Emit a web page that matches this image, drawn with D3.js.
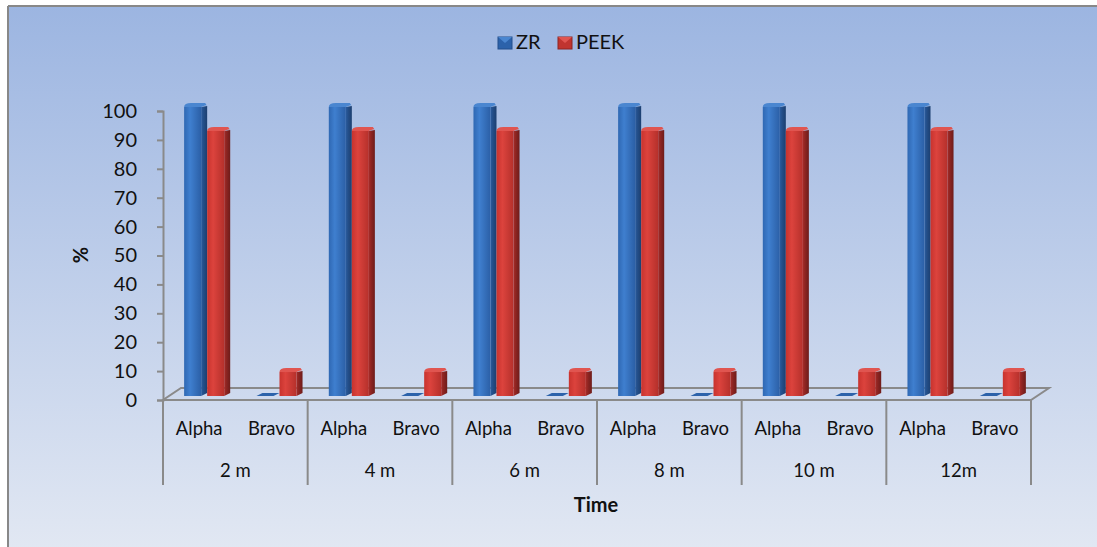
<!DOCTYPE html>
<html>
<head>
<meta charset="utf-8">
<script src="https://cdn.jsdelivr.net/npm/d3@7"></script>
<style>
  body { margin: 0; background: #fff; }
  text { font-family: Lato, "Open Sans", sans-serif; fill: #111; }
</style>
</head>
<body>
<div id="chart"></div>
<script>
// data
var groups = ["2 m", "4 m", "6 m", "8 m", "10 m", "12m"];
var subs = ["Alpha", "Bravo"];
var series = ["ZR", "PEEK"];
var zrValues = [100, 0, 100, 0, 100, 0, 100, 0, 100, 0, 100, 0];
var peekValues = [91.7, 8.3, 91.7, 8.3, 91.7, 8.3, 91.7, 8.3, 91.7, 8.3, 91.7, 8.3];
var yTicks = [0, 10, 20, 30, 40, 50, 60, 70, 80, 90, 100];

var W = 1097, H = 547;
var x0 = 163, x1 = 1031, yBase = 400, yTop = 111;
var depth = { dx: 18, dy: -12 };

var svg = d3.select("#chart").append("svg")
  .attr("width", W).attr("height", H);

var defs = svg.append("defs");
var bg = defs.append("linearGradient").attr("id", "bg")
  .attr("x1", 0).attr("y1", 0).attr("x2", 0).attr("y2", 1);
bg.append("stop").attr("offset", "0%").attr("stop-color", "#9cb5e1");
bg.append("stop").attr("offset", "100%").attr("stop-color", "#e2e8f3");

function barGrad(id, c1, c2, c3) {
  var g = defs.append("linearGradient").attr("id", id)
    .attr("x1", 0).attr("y1", 0).attr("x2", 1).attr("y2", 0);
  g.append("stop").attr("offset", "0%").attr("stop-color", c1);
  g.append("stop").attr("offset", "35%").attr("stop-color", c2);
  g.append("stop").attr("offset", "100%").attr("stop-color", c3);
}
barGrad("gZR", "#2f68b3", "#3f7fcf", "#2b5fa6");
barGrad("gPEEK", "#c8332e", "#dc433d", "#b5302b");
barGrad("sZR", "#2a5c9f", "#244f8a", "#1c3f70");
barGrad("sPEEK", "#a82c28", "#8e2522", "#6e1c1a");

var colors = {
  ZR: { front: "url(#gZR)", side: "url(#sZR)", top: "#4a86d0", flat: "#2c62aa", edge: "#234f8c" },
  PEEK: { front: "url(#gPEEK)", side: "url(#sPEEK)", top: "#e05550", flat: "#c0342f", edge: "#8e2522" }
};

// background + frame
svg.append("rect").attr("x", 8).attr("y", 6).attr("width", W).attr("height", H)
  .attr("fill", "url(#bg)");
svg.append("line").attr("x1", 8).attr("x2", 8).attr("y1", 6).attr("y2", H)
  .attr("stroke", "#888").attr("stroke-width", 2);
svg.append("line").attr("x1", 8).attr("x2", W).attr("y1", 6).attr("y2", 6)
  .attr("stroke", "#888").attr("stroke-width", 2);

// scales
var xg = d3.scaleBand().domain(groups).range([x0, x1]);
var xs = d3.scaleBand().domain(subs).range([0, xg.bandwidth()]);
var xb = d3.scaleBand().domain(series).range([0, xs.bandwidth()]).paddingOuter(0.57).paddingInner(0);
var y = d3.scaleLinear().domain([0, 100]).range([yBase, yTop]);

// floor
var axisColor = "#8a8a8a";
svg.append("path")
  .attr("d", "M" + x0 + "," + yBase + "L" + x1 + "," + yBase +
    "L" + (x1 + depth.dx) + "," + (yBase + depth.dy) +
    "L" + (x0 + depth.dx) + "," + (yBase + depth.dy) + "Z")
  .attr("fill", "none").attr("stroke", axisColor).attr("stroke-width", 2);

// y axis
var yAxis = d3.axisLeft(y).tickValues(yTicks).tickSize(6).tickPadding(20);
var ga = svg.append("g").attr("transform", "translate(" + x0 + ",0)").call(yAxis);
ga.select(".domain").attr("stroke", axisColor).attr("stroke-width", 2);
ga.selectAll(".tick line").attr("stroke", axisColor).attr("stroke-width", 2);
ga.selectAll(".tick text").style("font-size", "20px").style("font-family", "Lato, sans-serif")
  .attr("fill", "#111");

// category axis lines
var dividers = groups.map(function(g) { return xg(g); }).concat([x1]);
svg.selectAll(".div").data(dividers).enter().append("line")
  .attr("x1", function(d) { return d; }).attr("x2", function(d) { return d; })
  .attr("y1", yBase).attr("y2", 485)
  .attr("stroke", axisColor).attr("stroke-width", 2);

// bars
var rows = [];
groups.forEach(function(g, gi) {
  subs.forEach(function(s, si) {
    var i = gi * subs.length + si;
    rows.push({ group: g, sub: s, series: "ZR", value: zrValues[i] });
    rows.push({ group: g, sub: s, series: "PEEK", value: peekValues[i] });
  });
});

var shift = { dx: 8, dy: -4 };
var side = { dx: 6, dy: -3 };
var gb = svg.append("g");
rows.forEach(function(d) {
  var bx = xg(d.group) + xs(d.sub) + xb(d.series) + shift.dx;
  var bw = xb.bandwidth() - side.dx;
  var yb = yBase + shift.dy, yt = y(d.value) + shift.dy;
  var c = colors[d.series];
  if (d.value <= 0) {
    gb.append("path")
      .attr("d", "M" + bx + "," + yb + "L" + (bx + bw) + "," + yb +
        "L" + (bx + bw + side.dx) + "," + (yb + side.dy) + "L" + (bx + side.dx) + "," + (yb + side.dy) + "Z")
      .attr("fill", c.flat);
    return;
  }
  gb.append("path")
    .attr("d", "M" + (bx + bw) + "," + yb + "L" + (bx + bw + side.dx) + "," + (yb + side.dy) +
      "L" + (bx + bw + side.dx) + "," + (yt + side.dy + 2) + "L" + (bx + bw) + "," + yt + "Z")
    .attr("fill", c.side);
  gb.append("rect").attr("x", bx).attr("y", yt).attr("width", bw).attr("height", yb - yt)
    .attr("fill", c.front);
  gb.append("path")
    .attr("d", "M" + bx + "," + yt + "L" + (bx + bw) + "," + yt +
      "Q" + (bx + bw + side.dx) + "," + (yt + side.dy) + " " + (bx + bw + side.dx) + "," + (yt + side.dy + 2) +
      "L" + (bx + bw + side.dx - 2) + "," + (yt + side.dy - 1) +
      "L" + (bx + side.dx + 1) + "," + (yt + side.dy - 1) +
      "Q" + bx + "," + (yt + side.dy - 1) + " " + bx + "," + yt + "Z")
    .attr("fill", c.top);
});

// category labels
groups.forEach(function(g) {
  subs.forEach(function(s) {
    svg.append("text").attr("x", xg(g) + xs(s) + xs.bandwidth() / 2).attr("y", 435)
      .attr("text-anchor", "middle").style("font-size", "18.5px").text(s);
  });
  svg.append("text").attr("x", xg(g) + xg.bandwidth() / 2).attr("y", 477)
    .attr("text-anchor", "middle").style("font-size", "18.5px").text(g);
});

// axis titles
svg.append("text").attr("x", 596).attr("y", 512).attr("text-anchor", "middle")
  .style("font-size", "20px").style("font-weight", "bold").text("Time");
svg.append("text").attr("transform", "translate(88,255) rotate(-90)")
  .attr("text-anchor", "middle").style("font-size", "20px").style("font-weight", "bold").text("%");

// legend
var legend = [{ name: "ZR", x: 498 }, { name: "PEEK", x: 558 }];
legend.forEach(function(l) {
  var c = colors[l.name];
  svg.append("rect").attr("x", l.x).attr("y", 37).attr("width", 14).attr("height", 12)
    .attr("fill", c.flat).attr("stroke", c.edge).attr("stroke-width", 1);
  svg.append("path").attr("d", "M" + l.x + ",37L" + (l.x + 14) + ",37L" + (l.x + 7) + ",43Z")
    .attr("fill", c.top);
  svg.append("text").attr("x", l.x + 18).attr("y", 49).style("font-size", "20px").text(l.name);
});
</script>
</body>
</html>
